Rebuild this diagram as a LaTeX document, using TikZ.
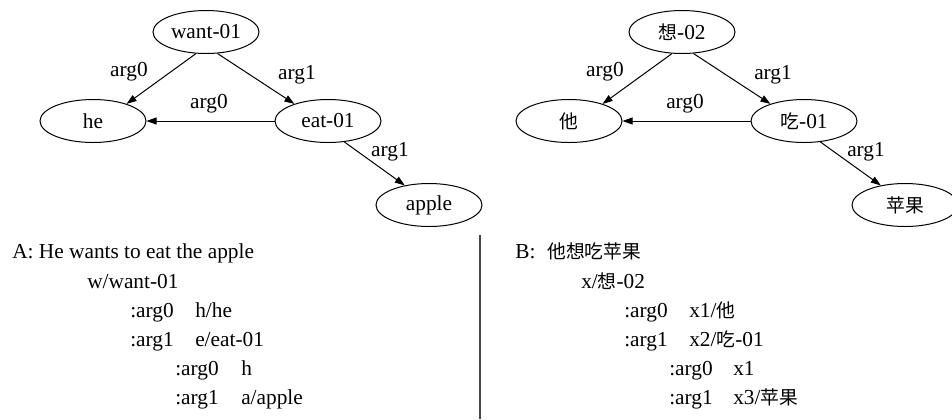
\documentclass[tikz,border=0pt]{standalone}
\usepackage{fontspec}
\setmainfont{Liberation Serif}
\newfontfamily\cjkfont{Noto Sans CJK SC}[Scale=0.88]
\newcommand\zh[1]{{\cjkfont #1}}
\usetikzlibrary{arrows.meta,shapes.geometric}
\begin{document}
\begin{tikzpicture}[x=0.75pt,y=-0.75pt,
  every node/.style={font=\rmfamily\fontsize{16}{19}\selectfont},
  amr/.style={ellipse,draw,line width=0.75pt,minimum width=79.5pt,minimum height=32.25pt,inner sep=0pt},
  rel/.style={draw,line width=0.75pt,-{Triangle[length=7.5pt,width=5.2pt]}},
  lbl/.style={inner sep=0pt},
  txt/.style={anchor=base west,inner sep=0pt}]
\useasboundingbox (0,0) rectangle (952,419);
\clip (0,0) rectangle (952,419);
% left graph
\node[amr] (want) at (206,32) {want-01};
\node[amr] (he) at (93,121) {he};
\node[amr] (eat) at (328,121) {eat-01};
\node[amr] (apple) at (429,205) {apple};
\draw[rel] (want.-115) -- (he.27);
\draw[rel] (want.-62) -- (eat.153);
\draw[rel] (eat.west) -- (he.east);
\draw[rel] (eat.-52) -- (apple.141);
\node[lbl] (l1) at (129,72) {arg0};
\node[lbl] (l2) at (297,75) {arg1};
\node[lbl] (l3) at (209,104) {arg0};
\node[lbl] (l4) at (390,152) {arg1};
% right graph
\node[amr] (xiang) at (682,32) {\zh{想}-02};
\node[amr] (ta) at (569,121) {\zh{他}};
\node[amr] (chi) at (804,121) {\zh{吃}-01};
\node[amr] (pingguo) at (905,205) {\zh{苹果}};
\draw[rel] (xiang.-115) -- (ta.27);
\draw[rel] (xiang.-62) -- (chi.153);
\draw[rel] (chi.west) -- (ta.east);
\draw[rel] (chi.-52) -- (pingguo.141);
\node[lbl] (r1) at (605,72) {arg0};
\node[lbl] (r2) at (773,75) {arg1};
\node[lbl] (r3) at (685,104) {arg0};
\node[lbl] (r4) at (866,152) {arg1};
% divider
\coordinate (dtop) at (480,235);
\coordinate (dbot) at (480,419);
\draw[line width=1.1pt,color=black!72] (dtop) -- (dbot);
% left text
\node[txt] (a0) at (12,258) {A: He wants to eat the apple};
\node[txt] (a1) at (87,288) {w/want-01};
\node[txt] (a2) at (130,317) {:arg0};
\node[txt] (a2v) at (195,317) {h/he};
\node[txt] (a3) at (130,346) {:arg1};
\node[txt] (a3v) at (195,346) {e/eat-01};
\node[txt] (a4) at (175,375) {:arg0};
\node[txt] (a4v) at (241,375) {h};
\node[txt] (a5) at (175,404) {:arg1};
\node[txt] (a5v) at (241,404) {a/apple};
% right text
\node[txt] (b0) at (515,258) {B:};
\node[txt] (b0v) at (547,258) {\zh{他想吃苹果}};
\node[txt] (b1) at (581,288) {x/\zh{想}-02};
\node[txt] (b2) at (624,317) {:arg0};
\node[txt] (b2v) at (689,317) {x1/\zh{他}};
\node[txt] (b3) at (624,346) {:arg1};
\node[txt] (b3v) at (689,346) {x2/\zh{吃}-01};
\node[txt] (b4) at (669,375) {:arg0};
\node[txt] (b4v) at (733,375) {x1};
\node[txt] (b5) at (669,404) {:arg1};
\node[txt] (b5v) at (733,404) {x3/\zh{苹果}};
\end{tikzpicture}
\end{document}
